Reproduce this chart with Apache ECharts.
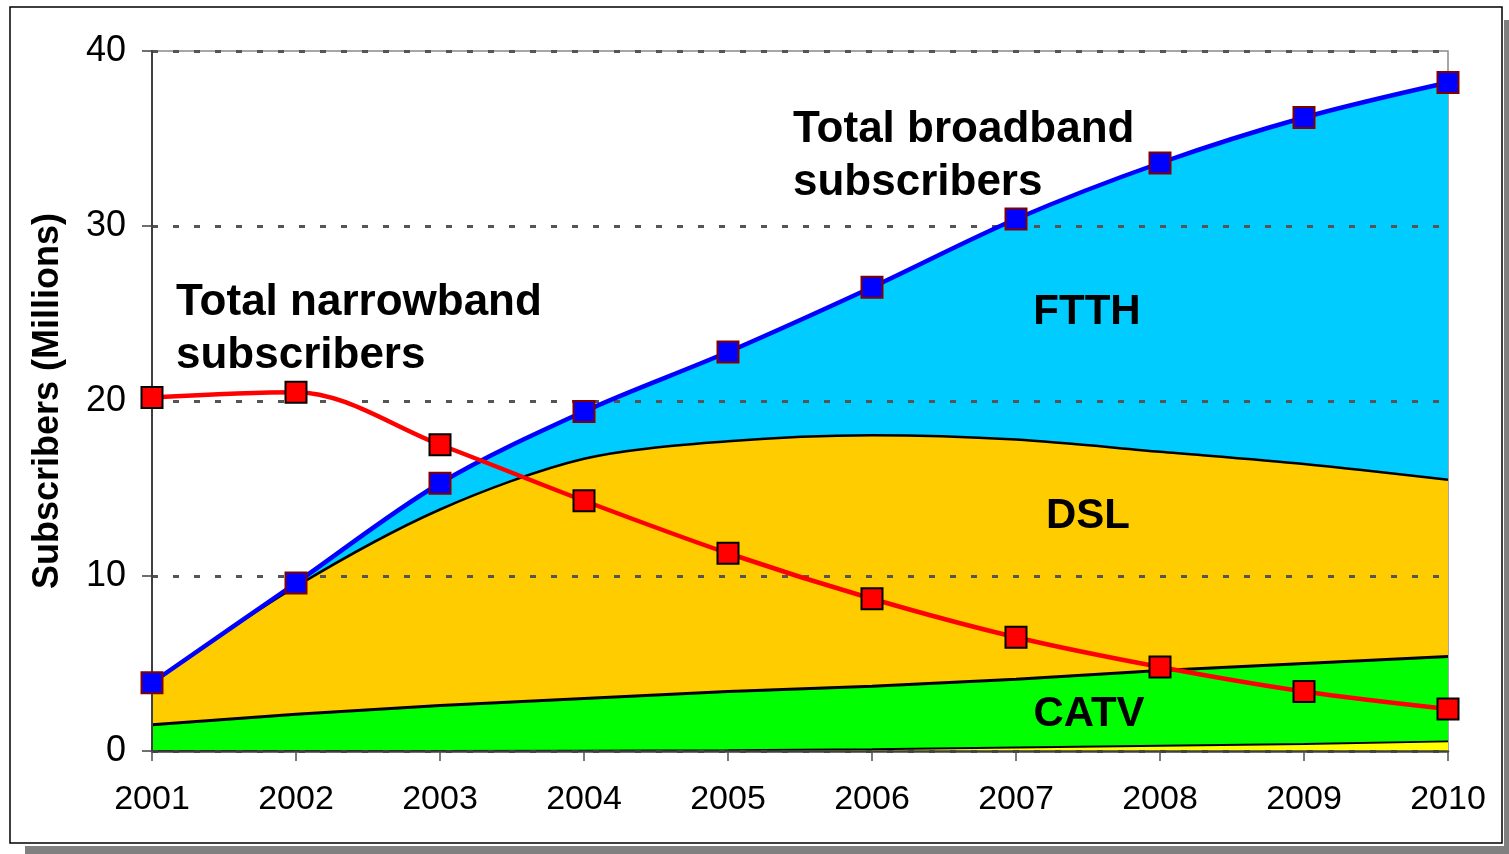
<!DOCTYPE html>
<html>
<head>
<meta charset="utf-8">
<script src="https://cdn.jsdelivr.net/npm/echarts@6/dist/echarts.min.js"></script>
<style>
html,body{margin:0;padding:0;background:#fff;}
#chart{width:1509px;height:854px;}
</style>
</head>
<body>
<div id="chart"></div>
<script>
// ---- data (millions of subscribers) ----
const years = ['2001','2002','2003','2004','2005','2006','2007','2008','2009','2010'];
const otherSubs = [0, 0, 0, 0.02, 0.05, 0.1, 0.2, 0.3, 0.4, 0.55];
const catvSubs  = [1.5, 2.1, 2.6, 2.98, 3.35, 3.6, 3.9, 4.3, 4.6, 4.85];
const dslSubs   = [2.4, 7.3, 11.2, 13.7, 14.3, 14.35, 13.7, 12.5, 11.4, 10.1];
const ftthSubs  = [0, 0.2, 1.5, 2.7, 5.1, 8.45, 12.6, 16.5, 19.8, 22.7];
const narrowbandSubs = [20.2, 20.5, 17.5, 14.3, 11.3, 8.7, 6.5, 4.8, 3.4, 2.4];
const yTicks = [0, 10, 20, 30, 40];

// cumulative tops built from the component arrays
const r = v => Math.round(v * 1000) / 1000;
const cumOther = otherSubs.map(v => r(v));
const cumCatv = cumOther.map((v, i) => r(v + catvSubs[i]));
const cumDsl = cumCatv.map((v, i) => r(v + dslSubs[i]));
const cumTotal = cumDsl.map((v, i) => r(v + ftthSubs[i]));

const FONT = '"Liberation Sans", Arial, sans-serif';
const chart = echarts.init(document.getElementById('chart'), null, {renderer: 'canvas'});

const option = {
  animation: false,
  backgroundColor: '#ffffff',
  grid: {
    left: 152, right: 61, top: 51, bottom: 103,
    show: true, borderColor: '#8a8a8a', borderWidth: 1.5, backgroundColor: 'transparent'
  },
  xAxis: {
    type: 'category',
    data: years,
    boundaryGap: false,
    z: 3,
    axisLine: {lineStyle: {color: '#404040', width: 2.5}},
    axisTick: {show: true, length: 10, lineStyle: {color: '#505050', width: 1.5}},
    axisLabel: {color: '#000', fontFamily: FONT, fontSize: 34, margin: 32},
    splitLine: {show: false}
  },
  yAxis: {
    type: 'value',
    min: yTicks[0], max: yTicks[yTicks.length - 1], interval: 10,
    z: 3,
    name: 'Subscribers (Millions)',
    nameLocation: 'middle',
    nameRotate: 90,
    nameGap: 86,
    nameTextStyle: {color: '#000', fontFamily: FONT, fontSize: 36, fontWeight: 'bold'},
    axisLine: {show: true, lineStyle: {color: '#404040', width: 2}},
    axisTick: {show: true, length: 10, lineStyle: {color: '#404040', width: 1.5}},
    axisLabel: {color: '#000', fontFamily: FONT, fontSize: 36, margin: 26},
    splitLine: {show: true, lineStyle: {color: '#555555', width: 3, type: [6, 15]}}
  },
  graphic: [
    {type: 'rect', z: -100, silent: true, shape: {x: 1504, y: 20, width: 12, height: 840}, style: {fill: '#808080'}},
    {type: 'rect', z: -100, silent: true, shape: {x: 25, y: 846, width: 1490, height: 12}, style: {fill: '#808080'}},
    {type: 'rect', z: -99, silent: true, shape: {x: 10, y: 7, width: 1492, height: 836}, style: {fill: '#ffffff', stroke: '#000', lineWidth: 1.5}},
    {type: 'text', z: 100, left: 793, top: 103, style: {text: 'Total broadband\nsubscribers', fill: '#000', font: 'bold 44px ' + FONT, lineHeight: 53}},
    {type: 'text', z: 100, left: 176, top: 276, style: {text: 'Total narrowband\nsubscribers', fill: '#000', font: 'bold 44px ' + FONT, lineHeight: 53}},
    {type: 'text', z: 100, x: 1087, y: 312, style: {text: 'FTTH', fill: '#000', font: 'bold 42px ' + FONT, align: 'center', verticalAlign: 'middle'}},
    {type: 'text', z: 100, x: 1088, y: 516, style: {text: 'DSL', fill: '#000', font: 'bold 42px ' + FONT, align: 'center', verticalAlign: 'middle'}},
    {type: 'text', z: 100, x: 1089, y: 714, style: {text: 'CATV', fill: '#000', font: 'bold 42px ' + FONT, align: 'center', verticalAlign: 'middle'}}
  ],
  series: [
    {name: 'FTTH', type: 'line', data: cumTotal, smooth: 0.33, showSymbol: false, z: 2,
     lineStyle: {width: 0}, areaStyle: {color: '#00CCFF', opacity: 1}},
    {name: 'DSL', type: 'line', data: cumDsl, smooth: 0.3, showSymbol: false, z: 2,
     lineStyle: {color: '#000', width: 2.5}, areaStyle: {color: '#FFCC00', opacity: 1}},
    {name: 'CATV', type: 'line', data: cumCatv, smooth: false, showSymbol: false, z: 2,
     lineStyle: {color: '#000', width: 3}, areaStyle: {color: '#00FF00', opacity: 1}},
    {name: 'Other', type: 'line', data: cumOther, smooth: false, showSymbol: false, z: 2,
     lineStyle: {color: '#000', width: 2}, areaStyle: {color: '#FFFF00', opacity: 1}},
    {name: 'Total broadband', type: 'line', data: cumTotal, smooth: 0.33, z: 4, clip: false,
     symbol: 'rect', symbolSize: 21, showSymbol: true,
     lineStyle: {color: '#0000FF', width: 4.5},
     itemStyle: {color: '#0000FF', borderColor: '#800000', borderWidth: 2}},
    {name: 'Total narrowband', type: 'line', data: narrowbandSubs, smooth: 0.33, z: 5, clip: false,
     symbol: 'rect', symbolSize: 21, showSymbol: true,
     lineStyle: {color: '#FF0000', width: 4.5},
     itemStyle: {color: '#FF0000', borderColor: '#000', borderWidth: 2}}
  ]
};
chart.setOption(option);
</script>
</body>
</html>
